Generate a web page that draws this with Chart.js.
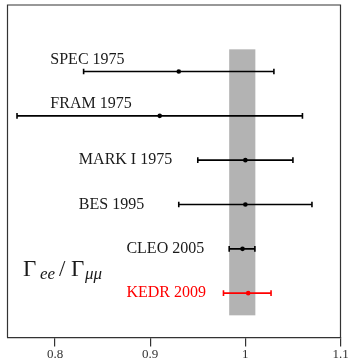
<!DOCTYPE html>
<html>
<head>
<meta charset="utf-8">
<script src="https://cdn.jsdelivr.net/npm/chart.js@4/dist/chart.umd.min.js"></script>
<style>
html,body{margin:0;padding:0;background:#fff;}
canvas{display:block;}
</style>
</head>
<body>
<canvas id="c" width="349" height="361"></canvas>
<script>
// ---- data ----
const experiments = ['SPEC 1975', 'FRAM 1975', 'MARK I 1975', 'BES 1995', 'CLEO 2005', 'KEDR 2009'];
const rows        = [6, 5, 4, 3, 2, 1];
const central     = [0.930, 0.910, 1.000, 1.000, 0.997, 1.003];
const lower       = [0.830, 0.760, 0.950, 0.930, 0.983, 0.977];
const upper       = [1.030, 1.060, 1.050, 1.070, 1.010, 1.027];
const seriesColors = ['#000000', '#000000', '#000000', '#000000', '#000000', '#ff0000'];
const bandRange   = [0.983, 1.0105];
const bandRows    = [0.5, 6.5];
const xTicks      = [0.8, 0.9, 1.0, 1.1];
const xTickLabels = ['0.8', '0.9', '1', '1.1'];
// label anchors (data units) for the experiment names
const labelX      = [0.795, 0.795, 0.825, 0.825, 0.875, 0.875];
const labelLift   = [0.26, 0.28, 0, 0, 0, 0];

const datasets = [];
experiments.forEach((name, i) => {
  datasets.push({
    label: name,
    data: [{x: lower[i], y: rows[i]}, {x: upper[i], y: rows[i]}],
    showLine: true,
    borderColor: seriesColors[i],
    backgroundColor: seriesColors[i],
    borderWidth: 1.6,
    pointStyle: 'line',
    rotation: 90,
    pointRadius: 2.8,
    pointBorderWidth: 1.6,
    pointHoverRadius: 2.8
  });
});
datasets.push({
  label: 'central',
  data: experiments.map((n, i) => ({x: central[i], y: rows[i]})),
  showLine: false,
  pointStyle: 'circle',
  pointRadius: 2.3,
  pointBorderWidth: 0,
  backgroundColor: seriesColors,
  borderColor: seriesColors
});

const decor = {
  id: 'decor',
  beforeDatasetsDraw(chart) {
    const ctx = chart.ctx, xs = chart.scales.x, ys = chart.scales.y;
    const x0 = xs.getPixelForValue(bandRange[0]), x1 = xs.getPixelForValue(bandRange[1]);
    const y0 = ys.getPixelForValue(bandRows[1]), y1 = ys.getPixelForValue(bandRows[0]);
    ctx.save();
    ctx.fillStyle = '#b3b3b3';
    ctx.fillRect(x0, y0, x1 - x0, y1 - y0);
    ctx.restore();
  },
  afterDraw(chart) {
    const ctx = chart.ctx, xs = chart.scales.x, ys = chart.scales.y, a = chart.chartArea;
    ctx.save();
    // frame
    ctx.strokeStyle = '#333';
    ctx.lineWidth = 1.2;
    ctx.beginPath();
    ctx.moveTo(a.left, a.bottom);
    ctx.lineTo(a.left, a.top);
    ctx.lineTo(a.right, a.top);
    ctx.lineTo(a.right, a.bottom);
    ctx.stroke();
    // labels
    ctx.font = '16px "Liberation Serif", serif';
    ctx.textBaseline = 'middle';
    ctx.textAlign = 'left';
    experiments.forEach((name, i) => {
      ctx.fillStyle = seriesColors[i] === '#000000' ? '#1a1a1a' : seriesColors[i];
      ctx.fillText(name, xs.getPixelForValue(labelX[i]), ys.getPixelForValue(rows[i] + labelLift[i]));
    });
    // Gamma_ee / Gamma_mumu
    ctx.fillStyle = '#1a1a1a';
    ctx.textBaseline = 'alphabetic';
    const base = 276;
    ctx.font = '23px "Liberation Serif", serif';
    ctx.fillText('\u0393', 23, base);
    ctx.font = 'italic 17px "Liberation Serif", serif';
    ctx.fillText('ee', 40, base + 3);
    ctx.font = '23px "Liberation Serif", serif';
    ctx.fillText('/', 59, base);
    ctx.fillText('\u0393', 71, base);
    ctx.font = 'italic 17px "Liberation Serif", serif';
    ctx.fillText('\u03bc\u03bc', 85, base + 3);
    ctx.restore();
  }
};

new Chart(document.getElementById('c'), {
  type: 'scatter',
  data: { datasets },
  options: {
    responsive: false,
    animation: false,
    devicePixelRatio: 1,
    layout: { padding: { left: 7.5, right: 8.5, top: 5, bottom: 0 } },
    plugins: { legend: { display: false }, tooltip: { enabled: false } },
    scales: {
      x: {
        type: 'linear',
        position: 'bottom',
        min: 0.75,
        max: 1.1,
        afterBuildTicks(scale) { scale.ticks = xTicks.map(v => ({ value: v })); },
        afterFit(scale) { scale.height = 23.5; },
        grid: { display: true, drawOnChartArea: false, drawTicks: true, tickLength: 9, color: '#333', lineWidth: 1.2 },
        border: { display: true, color: '#333', width: 1.2 },
        ticks: {
          padding: 0,
          color: '#333',
          maxRotation: 0,
          autoSkip: false,
          font: { family: '"Liberation Serif", serif', size: 13 },
          callback(value) {
            const k = xTicks.findIndex(t => Math.abs(t - value) < 1e-9);
            return k >= 0 ? xTickLabels[k] : '';
          }
        }
      },
      y: { type: 'linear', min: 0, max: 7.5, display: false }
    }
  },
  plugins: [decor]
});
</script>
</body>
</html>
